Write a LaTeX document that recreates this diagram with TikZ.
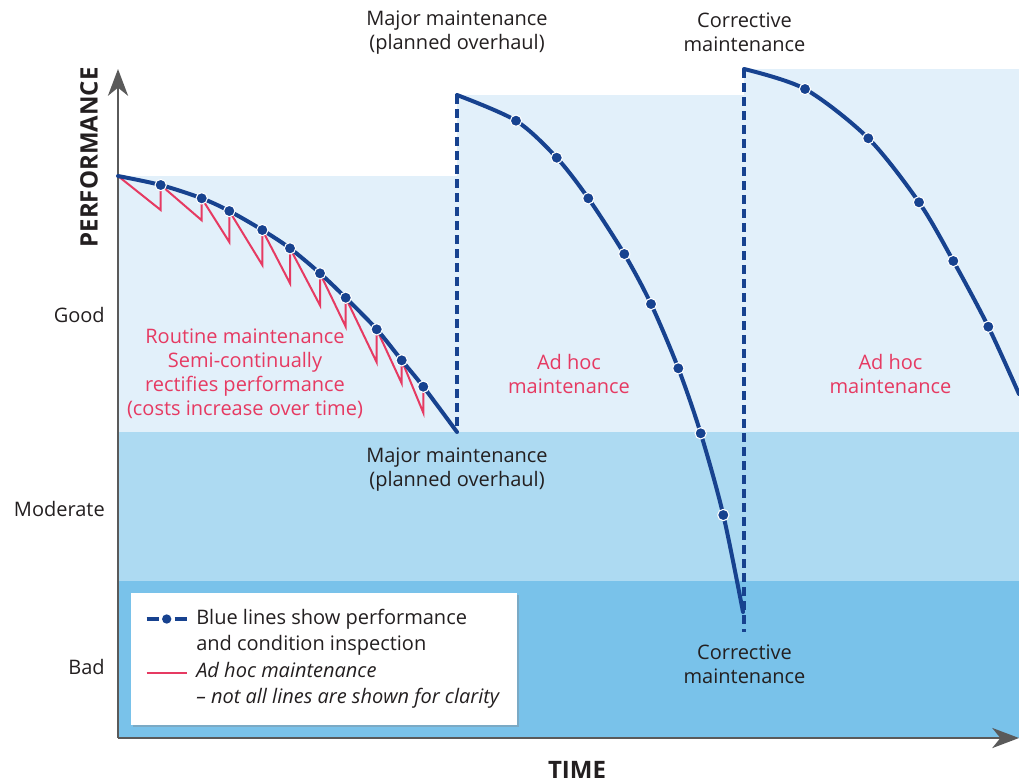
\documentclass[tikz,border=0pt]{standalone}
\usepackage{fontspec}
\setmainfont{Open Sans}
\usetikzlibrary{calc,shadows,arrows.meta}
\definecolor{bandA}{HTML}{E2F0FA}
\definecolor{bandB}{HTML}{ADDAF2}
\definecolor{bandC}{HTML}{79C2EA}
\definecolor{axisgray}{HTML}{5A5A5A}
\definecolor{navy}{HTML}{17428F}
\definecolor{rosered}{HTML}{E63A62}
\definecolor{txt}{HTML}{231F20}
\begin{document}
\begin{tikzpicture}[x=0.75pt,y=-0.75pt,
  curve/.style={navy,line width=3pt,line cap=round},
  vdash/.style={navy,line width=2.6pt,dash pattern=on 6.5pt off 4pt},
  ptdot/.style={circle,fill=navy,draw=white,line width=0.8pt,minimum size=8.5pt,inner sep=0pt},
  zig/.style={rosered,line width=1.5pt,line join=miter},
  lbl/.style={text=txt,font=\fontsize{15}{18}\selectfont,align=center,inner sep=0pt},
  rlbl/.style={text=rosered,font=\fontsize{15}{18}\selectfont,align=center,inner sep=0pt},
  axlbl/.style={text=txt,font=\fontsize{18}{20}\selectfont\bfseries,inner sep=0pt},
  lvl/.style={text=txt,font=\fontsize{15}{18}\selectfont,anchor=east,inner sep=0pt},
  axisline/.style={axisgray,line width=2.2pt,-{Stealth[length=20pt,width=15pt,inset=6pt]}},
  legtext/.style={text=txt,font=\fontsize{15}{19.5}\selectfont,align=left,anchor=west,inner sep=0pt}]
\useasboundingbox (0,0) rectangle (1019,783);

% bands
\fill[bandA] (118,432) -- (118,176) -- (457,176) -- (457,95) -- (744,95) -- (744,69) -- (1019,69) -- (1019,432) -- cycle;
\fill[bandB] (118,432) rectangle (1019,581);
\fill[bandC] (118,581) rectangle (1019,738);

% axes
\coordinate (org) at (118,738);
\coordinate (ytip) at (118,69);
\coordinate (xtip) at (1019,738);
\draw[axisline] (org) -- (ytip);
\draw[axisline] (org) -- (xtip);

% curve 1 points
\coordinate (s1) at (118,176);
\coordinate (a1) at (160.7,185);
\coordinate (a2) at (201.7,198.3);
\coordinate (a3) at (229.3,211);
\coordinate (a4) at (262.3,230);
\coordinate (a5) at (290,248.3);
\coordinate (a6) at (320,273.3);
\coordinate (a7) at (345.7,297.7);
\coordinate (a8) at (376.7,329.3);
\coordinate (a9) at (401.7,360.3);
\coordinate (a10) at (423.3,386.7);
\coordinate (e1) at (457,432);

% red zigzag
\draw[zig] (s1) -- ($(a1)+(0,25)$) -- (a1) -- ($(a2)+(0,22)$) -- (a2) -- ($(a3)+(0,31)$) -- (a3)
  -- ($(a4)+(0,35)$) -- (a4) -- ($(a5)+(0,35)$) -- (a5) -- ($(a6)+(0,32)$) -- (a6)
  -- ($(a7)+(0,29)$) -- (a7) -- ($(a8)+(0,33)$) -- (a8) -- ($(a9)+(0,23)$) -- (a9)
  -- ($(a10)+(0,26)$) -- (a10);

\draw[curve] plot[smooth] coordinates {(s1) (a1) (a2) (a3) (a4) (a5) (a6) (a7) (a8) (a9) (a10) (e1)};

% curve 2
\coordinate (s2) at (457,95);
\coordinate (b1) at (516,120.7);
\coordinate (b2) at (556.7,157.7);
\coordinate (b3) at (588.3,198.3);
\coordinate (b4) at (624.3,254);
\coordinate (b5) at (651,304);
\coordinate (b6) at (678.3,368.3);
\coordinate (b7) at (700.7,433.3);
\coordinate (b8) at (723.3,515);
\coordinate (e2) at (743,612);
\draw[vdash] (s2) -- (e1);
\draw[curve] plot[smooth] coordinates {(s2) (b1) (b2) (b3) (b4) (b5) (b6) (b7) (b8) (e2)};

% curve 3
\coordinate (s3) at (744,69);
\coordinate (c1) at (805,89);
\coordinate (c2) at (868.3,138.3);
\coordinate (c3) at (919,202.3);
\coordinate (c4) at (953.3,261);
\coordinate (c5) at (988.3,326.7);
\coordinate (e3) at (1019,394);
\coordinate (f2) at (744,632);
\draw[vdash] (s3) -- (f2);
\draw[curve] plot[smooth] coordinates {(s3) (c1) (c2) (c3) (c4) (c5) (e3)};

% dots
\foreach \p in {a1,a2,a3,a4,a5,a6,a7,a8,a9,a10,b1,b2,b3,b4,b5,b6,b7,b8,c1,c2,c3,c4,c5}
  \node[ptdot] (d\p) at (\p) {};

% labels
\node[lbl] (majtop) at (457,32.5) {Major maintenance\\(planned overhaul)};
\node[lbl] (cortop) at (744.5,32.5) {Corrective\\maintenance};
\node[lbl] (majbot) at (457,470) {Major maintenance\\(planned overhaul)};
\node[lbl] (corbot) at (744.5,664) {Corrective\\maintenance};
\node[rlbl] (routine) at (245,374) {Routine maintenance\\Semi-continually\\rectifies performance\\(costs increase over time)};
\node[rlbl] (adhoc1) at (569,374) {Ad hoc\\maintenance};
\node[rlbl] (adhoc2) at (890.5,374) {Ad hoc\\maintenance};

\node[lvl] (good) at (105,315) {Good};
\node[lvl] (moderate) at (105,509) {Moderate};
\node[lvl] (bad) at (105,667) {Bad};

\node[axlbl,rotate=90] (perf) at (89,157.5) {PERFORMANCE};
\node[axlbl] (time) at (577,770) {TIME};

% legend
\node[draw=none,fill=white,drop shadow={shadow xshift=1.2pt,shadow yshift=-1.2pt,opacity=0.35},
  minimum width=386*0.75pt,minimum height=132*0.75pt,inner sep=0pt] (legend) at (324,659) {};
\coordinate (lb1) at (146.7,619);
\coordinate (lb2) at (159,619);
\coordinate (lb3) at (174.5,619);
\coordinate (lb4) at (187.3,619);
\draw[navy,line width=3pt] (lb1) -- (lb2);
\draw[navy,line width=3pt] (lb3) -- (lb4);
\node[ptdot,draw=none,minimum size=7pt] (legdot) at (166.7,619) {};
\coordinate (lr1) at (146.7,673);
\coordinate (lr2) at (187.3,673);
\draw[zig] (lr1) -- (lr2);
\node[legtext] (leg1) at (196,632.5) {Blue lines show performance\\and condition inspection};
\node[legtext] (leg2) at (196,685.5) {\itshape Ad hoc maintenance\\\itshape -- not all lines are shown for clarity};
\end{tikzpicture}
\end{document}
